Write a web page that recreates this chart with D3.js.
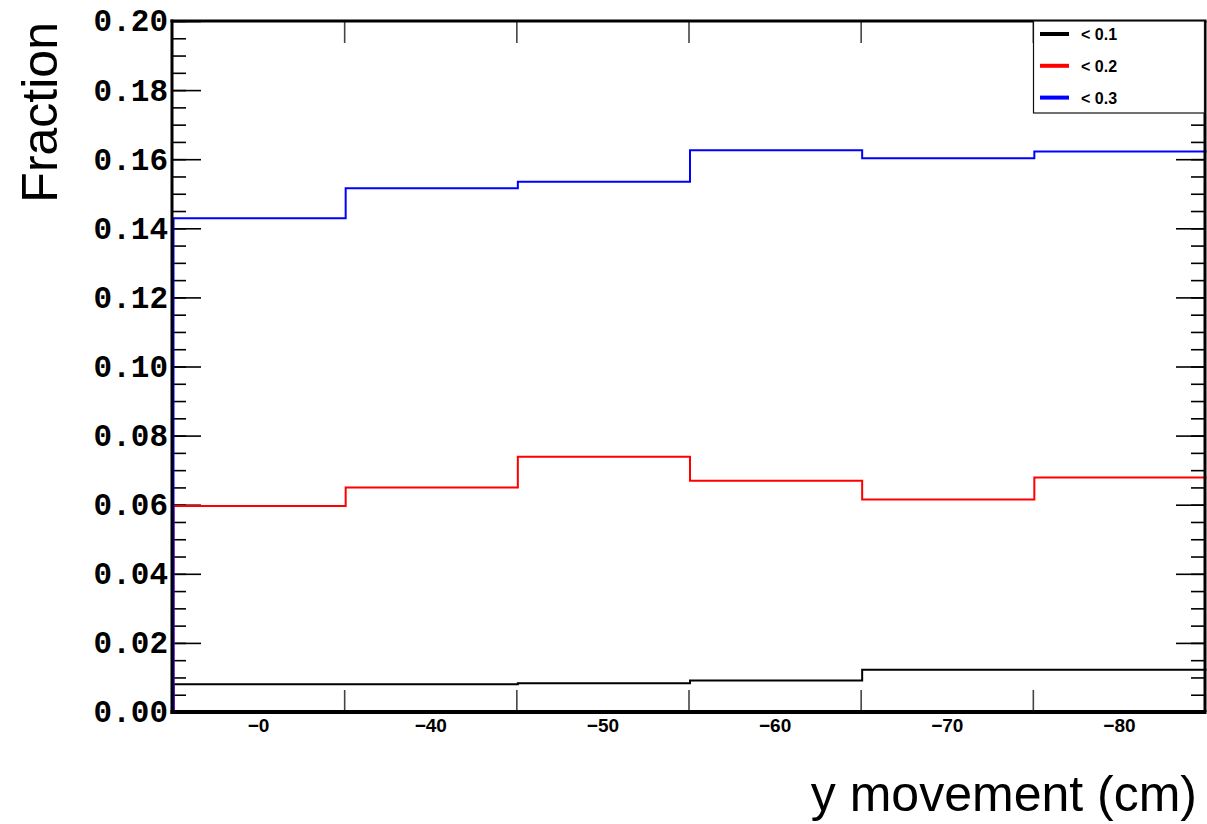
<!DOCTYPE html>
<html>
<head>
<meta charset="utf-8">
<script src="https://cdn.jsdelivr.net/npm/d3@7"></script>
<style>
  body { margin: 0; background: #fff; }
</style>
</head>
<body>
<script>
// data
var binLabels = ["\u22120", "\u221240", "\u221250", "\u221260", "\u221270", "\u221280"];
var cut01 = [0.0080, 0.0080, 0.0083, 0.0091, 0.0122, 0.0122];
var cut02 = [0.0596, 0.0650, 0.0739, 0.0669, 0.0615, 0.0679];
var cut03 = [0.1429, 0.1516, 0.1535, 0.1626, 0.1603, 0.1622];
var seriesNames = ["< 0.1", "< 0.2", "< 0.3"];
var yTickValues = [0, 0.02, 0.04, 0.06, 0.08, 0.10, 0.12, 0.14, 0.16, 0.18, 0.20];
var yMinorValues = d3.range(0, 41).map(function(i) { return i * 0.005; });

var colors = ["#000000", "#ff0000", "#0000ff"];

var svgWidth = 1207;
var svgHeight = 824;
// plot frame (note: "top" is reserved on window, so use plot* names)
var plotLeft = 172, plotRight = 1205, plotTop = 21, plotBottom = 712;

var svg = d3.select("body")
  .append("svg")
  .attr("width", svgWidth)
  .attr("height", svgHeight);

var x = d3.scaleLinear().domain([0, binLabels.length]).range([plotLeft, plotRight]);
var y = d3.scaleLinear().domain([0, 0.2]).range([plotBottom, plotTop]);

// y axis, left side
svg.append("g")
  .attr("transform", "translate(" + plotLeft + ",0)")
  .call(d3.axisLeft(y).tickValues(yMinorValues).tickSize(-14).tickSizeOuter(0).tickFormat(""));
var leftMajor = svg.append("g")
  .attr("transform", "translate(" + plotLeft + ",0)")
  .call(d3.axisLeft(y).tickValues(yTickValues).tickSize(-29).tickSizeOuter(0).tickPadding(4)
    .tickFormat(d3.format(".2f")));
leftMajor.selectAll("text")
  .attr("font-family", "'Liberation Mono', 'DejaVu Sans Mono', monospace")
  .attr("font-weight", "bold")
  .attr("font-size", 31)
  .attr("fill", "#000");

// y axis, right side
svg.append("g")
  .attr("transform", "translate(" + plotRight + ",0)")
  .call(d3.axisRight(y).tickValues(yMinorValues).tickSize(-14).tickSizeOuter(0).tickFormat(""));
svg.append("g")
  .attr("transform", "translate(" + plotRight + ",0)")
  .call(d3.axisRight(y).tickValues(yTickValues).tickSize(-29).tickSizeOuter(0).tickFormat(""));

// x axis: bin labels at centres, ticks at bin edges
var centers = binLabels.map(function(d, i) { return i + 0.5; });
var edges = d3.range(1, binLabels.length);

var xLabels = svg.append("g")
  .attr("transform", "translate(0," + plotBottom + ")")
  .call(d3.axisBottom(x).tickValues(centers).tickSize(0).tickPadding(7)
    .tickFormat(function(d, i) { return binLabels[i]; }));
xLabels.selectAll("text")
  .attr("font-family", "'Liberation Sans', Arial, sans-serif")
  .attr("font-weight", "bold")
  .attr("font-size", 19)
  .attr("fill", "#000");

svg.append("g")
  .attr("class", "edge")
  .attr("transform", "translate(0," + plotBottom + ")")
  .call(d3.axisBottom(x).tickValues(edges).tickSize(-22).tickSizeOuter(0).tickFormat(""));
svg.append("g")
  .attr("class", "edge")
  .attr("transform", "translate(0," + plotTop + ")")
  .call(d3.axisTop(x).tickValues(edges).tickSize(-22).tickSizeOuter(0).tickFormat(""));

svg.selectAll(".domain").remove();
svg.selectAll(".tick line").attr("stroke", "#000").attr("stroke-width", 1.6);
svg.selectAll(".edge .tick line").attr("stroke", "#444").attr("stroke-width", 1.6);

// histograms
var step = d3.line()
  .x(function(d) { return x(d[0]); })
  .y(function(d) { return y(d[1]); })
  .curve(d3.curveStepAfter);

[cut01, cut02, cut03].forEach(function(vals, k) {
  var pts = [[0, 0]];
  vals.forEach(function(v, i) { pts.push([i, v]); });
  pts.push([vals.length, vals[vals.length - 1]]);
  svg.append("path")
    .attr("d", step(pts))
    .attr("transform", "translate(1.5,0)")
    .attr("fill", "none")
    .attr("stroke", colors[k])
    .attr("stroke-width", 2);
});

// frame
svg.append("line").attr("x1", plotLeft).attr("x2", plotLeft).attr("y1", plotTop - 1.5).attr("y2", plotBottom + 2)
  .attr("stroke", "#000").attr("stroke-width", 3);
svg.append("line").attr("x1", plotLeft - 1.5).attr("x2", plotRight + 1.5).attr("y1", plotBottom).attr("y2", plotBottom)
  .attr("stroke", "#000").attr("stroke-width", 4);
svg.append("line").attr("x1", plotLeft - 1.5).attr("x2", plotRight + 1.5).attr("y1", plotTop).attr("y2", plotTop)
  .attr("stroke", "#000").attr("stroke-width", 3);
svg.append("line").attr("x1", plotRight).attr("x2", plotRight).attr("y1", plotTop).attr("y2", plotBottom)
  .attr("stroke", "#000").attr("stroke-width", 3);

// legend
var legend = svg.append("g");
legend.append("rect")
  .attr("x", 1033.5).attr("y", 21).attr("width", 171).attr("height", 92)
  .attr("fill", "#fff").attr("stroke", "#111").attr("stroke-width", 1.2);
seriesNames.forEach(function(name, k) {
  var ly = 34 + k * 31.8;
  legend.append("line")
    .attr("x1", 1040).attr("x2", 1069).attr("y1", ly).attr("y2", ly)
    .attr("stroke", colors[k]).attr("stroke-width", 4);
  legend.append("text")
    .attr("x", 1081).attr("y", ly + 6)
    .attr("font-family", "'Liberation Sans', Arial, sans-serif")
    .attr("font-weight", "bold")
    .attr("font-size", 16)
    .text(name);
});

// axis titles
svg.append("text")
  .attr("transform", "translate(57,22) rotate(-90)")
  .attr("text-anchor", "end")
  .attr("font-family", "'Liberation Sans', Arial, sans-serif")
  .attr("font-size", 50)
  .text("Fraction");

svg.append("text")
  .attr("x", 1197).attr("y", 811)
  .attr("text-anchor", "end")
  .attr("font-family", "'Liberation Sans', Arial, sans-serif")
  .attr("font-size", 50)
  .text("y movement (cm)");
</script>
</body>
</html>
